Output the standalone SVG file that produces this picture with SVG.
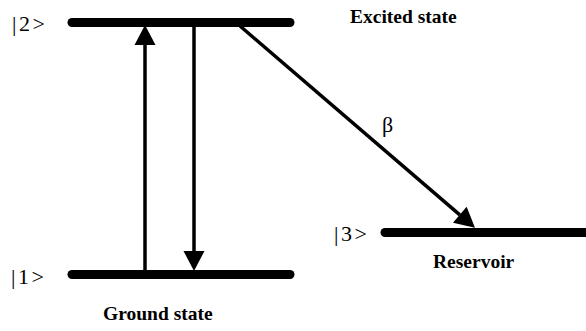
<svg xmlns="http://www.w3.org/2000/svg" width="586" height="331" viewBox="0 0 586 331">
<style>
.level{stroke:#000;stroke-width:9;stroke-linecap:round;fill:none}
.conn{stroke:#000;stroke-width:3.5;fill:none}
.ket{font-family:"Liberation Serif","Times New Roman",serif;font-size:22px;fill:#000}
.name{font-family:"Liberation Serif","Times New Roman",serif;font-size:19.5px;font-weight:bold;fill:#000}
.greek{font-family:"Liberation Serif","Times New Roman",serif;font-size:22px;fill:#000}
</style>
<defs>
<marker id="head" markerUnits="userSpaceOnUse" markerWidth="20" markerHeight="21" refX="0" refY="10.5" orient="auto" overflow="visible">
<path d="M0,0 L20,10.5 L0,21 Z" fill="#000"/>
</marker>
</defs>
<rect width="586" height="331" fill="#fff"/>
<g id="level2">
<line class="level" x1="72" y1="22.5" x2="290" y2="22.5"/>
<text class="ket" x="12" y="31" letter-spacing="2.5">|2&gt;</text>
<text class="name" x="350" y="23">Excited state</text>
</g>
<g id="level1">
<line class="level" x1="72" y1="274.5" x2="290" y2="274.5"/>
<text class="ket" x="11" y="284" letter-spacing="2.5">|1&gt;</text>
<text class="name" x="103" y="320">Ground state</text>
</g>
<g id="level3">
<line class="level" x1="385" y1="232.5" x2="590" y2="232.5"/>
<text class="ket" x="334" y="241" letter-spacing="2.5">|3&gt;</text>
<text class="name" x="433" y="268">Reservoir</text>
</g>
<g id="connectors">
<line class="conn" x1="145" y1="272" x2="145" y2="45" marker-end="url(#head)"/>
<line class="conn" x1="194" y1="26" x2="194" y2="251" marker-end="url(#head)"/>
<line class="conn" x1="240" y1="26" x2="459.8" y2="214.8" marker-end="url(#head)"/>
<text class="greek" x="382" y="132">β</text>
</g>
</svg>
